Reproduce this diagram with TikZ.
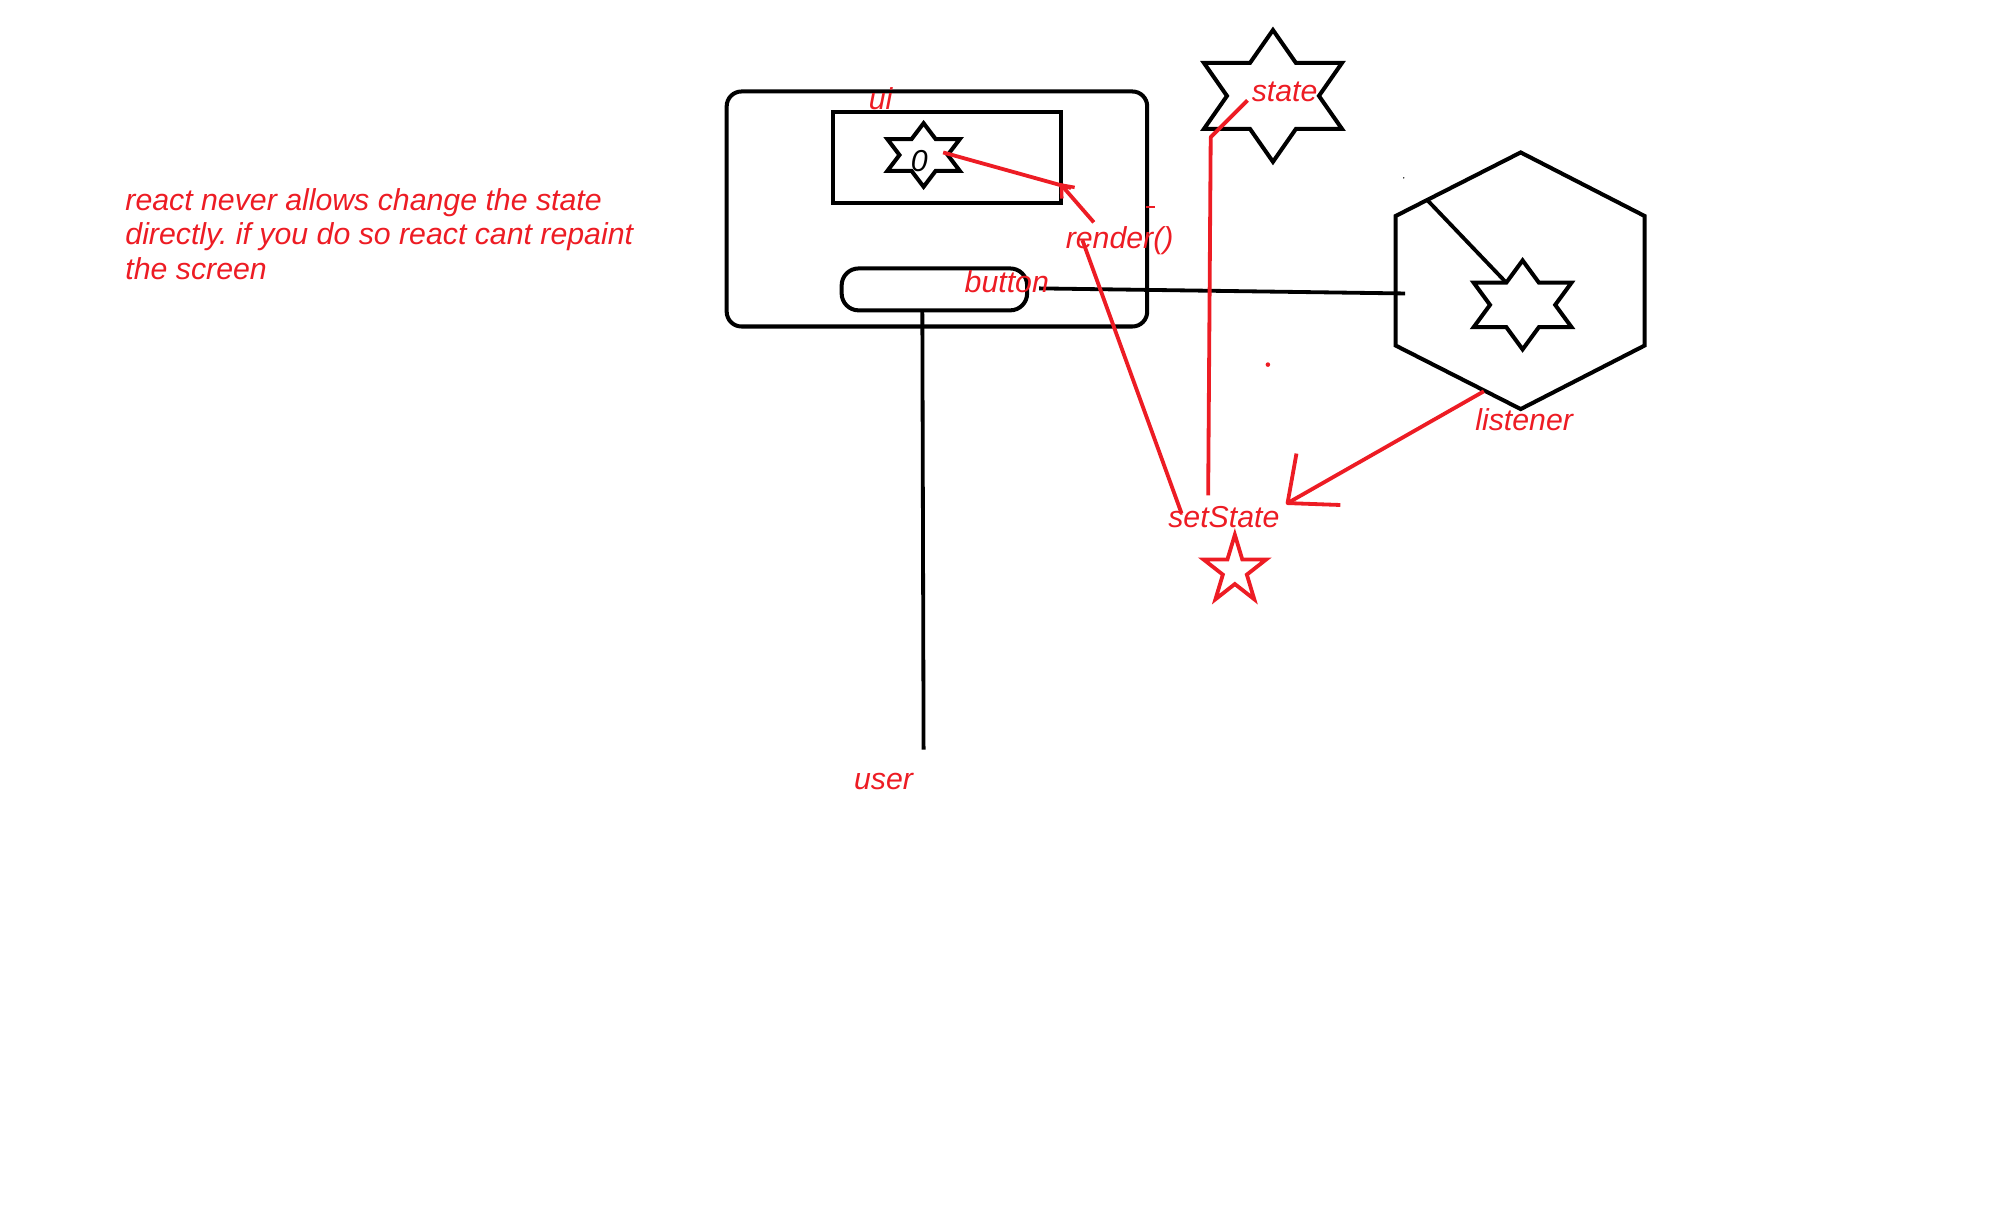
\documentclass[tikz,border=0pt]{standalone}
\usepackage{fontspec}
\setmainfont{Liberation Sans}
\usetikzlibrary{arrows.meta}
\definecolor{pred}{RGB}{237,28,36}
\frenchspacing
\begin{document}
\begin{tikzpicture}[x=0.6pt,y=-0.6pt,
  blk/.style={line width=1.9pt,draw=black},
  blkthin/.style={line width=1.8pt,draw=black},
  rdl/.style={line width=1.8pt,draw=pred},
  lbl/.style={text=pred,inner sep=0pt,anchor=base west,font=\fontsize{14.3}{16.5}\selectfont\itshape},
  box/.style={blk,inner sep=0pt},
]
\useasboundingbox (0,0) rectangle (1568,966);

% ---------- screen frame, ui box, button ----------
\node[box,rounded corners=7pt,minimum width=198.6pt,minimum height=111pt] (frame) at (737.5,164.5) {};
\node[box,minimum width=107.9pt,minimum height=43pt] (uibox) at (745.3,123.7) {};
\node[box,rounded corners=8pt,minimum width=87.6pt,minimum height=19.8pt] (btn) at (735.5,227.8) {};

% ---------- six-pointed stars ----------
\begin{scope}[shift={(727,122)},xscale=57,yscale=50]
  \draw[blk,line join=miter] (0,-0.5) -- (0.1667,-0.25) -- (0.5,-0.25) -- (0.3333,0) -- (0.5,0.25) -- (0.1667,0.25) -- (0,0.5) -- (-0.1667,0.25) -- (-0.5,0.25) -- (-0.3333,0) -- (-0.5,-0.25) -- (-0.1667,-0.25) -- cycle;
  \coordinate (s0) at (0.27,-0.04);
\end{scope}
\begin{scope}[shift={(1002,75.5)},xscale=108.6,yscale=103.7]
  \draw[blk,line join=miter] (0,-0.5) -- (0.1667,-0.25) -- (0.5,-0.25) -- (0.3333,0) -- (0.5,0.25) -- (0.1667,0.25) -- (0,0.5) -- (-0.1667,0.25) -- (-0.5,0.25) -- (-0.3333,0) -- (-0.5,-0.25) -- (-0.1667,-0.25) -- cycle;
\end{scope}
\begin{scope}[shift={(1198.5,240)},xscale=77,yscale=70]
  \draw[blk,line join=miter] (0,-0.5) -- (0.1667,-0.25) -- (0.5,-0.25) -- (0.3333,0) -- (0.5,0.25) -- (0.1667,0.25) -- (0,0.5) -- (-0.1667,0.25) -- (-0.5,0.25) -- (-0.3333,0) -- (-0.5,-0.25) -- (-0.1667,-0.25) -- cycle;
  \coordinate (lsv) at (-0.1667,-0.25);
\end{scope}

% ---------- hexagon (listener) ----------
\coordinate (h1) at (1197,120);
\coordinate (h2) at (1294.5,170);
\coordinate (h3) at (1294.5,272);
\coordinate (h4) at (1197,322);
\coordinate (h5) at (1098.6,272);
\coordinate (h6) at (1098.6,170);
\draw[blk,line join=miter] (h1) -- (h2) -- (h3) -- (h4) -- (h5) -- (h6) -- cycle;

% ---------- black connectors ----------
\coordinate (btnr) at (818,227);
\coordinate (hexl) at (1106,231);
\draw[blkthin] (btnr) -- (hexl);
\coordinate (btnb) at (726,244);
\coordinate (usr) at (727,590);
\draw[blkthin] (btnb) -- (usr);
\coordinate (hk) at (1123,157);
\draw[blkthin] (hk) -- (lsv);
\fill[black] (1105,140) circle (0.6);

% ---------- red connectors ----------
\coordinate (rtip) at (834,144);
\coordinate (rend) at (843,148);
\coordinate (rsrc) at (861,175);
\draw[rdl] (s0) -- (rend);
\draw[rdl,-{Straight Barb[length=5pt,width=8pt,line width=1.6pt]}] (rsrc) -- (rtip);

\coordinate (rtop) at (852,189);
\coordinate (ssl) at (930,404);
\draw[rdl] (rtop) -- (ssl);

\coordinate (st1) at (982,79);
\coordinate (st2) at (953,108);
\coordinate (st3) at (951,390);
\draw[rdl,line join=round] (st1) -- (st2) -- (st3);

\coordinate (lsrc) at (1168,308);
\coordinate (ltip) at (1013.5,396);
\coordinate (la1) at (1020.5,357);
\coordinate (la2) at (1055,397.5);
\draw[rdl] (lsrc) -- (ltip);
\draw[rdl,line join=round] (la1) -- (ltip) -- (la2);

\fill[pred] (998,287) circle (1.8);
\draw[pred,line width=0.8pt] (902,163) -- (909,163);

% red five-pointed star
\begin{scope}[shift={(972,449)},yscale=1.08]
  \draw[rdl,line join=miter] (0,-26) -- (5.84,-8.03) -- (24.73,-8.03) -- (9.44,3.07) -- (15.28,21.03) -- (0,9.93) -- (-15.28,21.03) -- (-9.44,3.07) -- (-24.73,-8.03) -- (-5.84,-8.03) -- cycle;
\end{scope}

% ---------- labels ----------
\node[lbl] (tui) at (683.5,86) {ui};
\node[lbl,text=black] (tzero) at (716.6,135) {0};
\node[lbl] (trender) at (838.6,195.5) {render()};
\node[lbl] (tbutton) at (759,230.4) {button};
\node[lbl] (tstate) at (985,80) {state};
\node[lbl] (tlistener) at (1161,338.5) {listener};
\node[lbl] (tsetstate) at (919.3,415.1) {setState};
\node[lbl] (tuser) at (672,621.5) {user};
\node[lbl] (note1) at (98.4,165.3) {react never allows change the state};
\node[lbl] (note2) at (98.4,192.8) {directly. if you do so react cant repaint};
\node[lbl] (note3) at (98.4,220.3) {the screen};
\end{tikzpicture}
\end{document}
